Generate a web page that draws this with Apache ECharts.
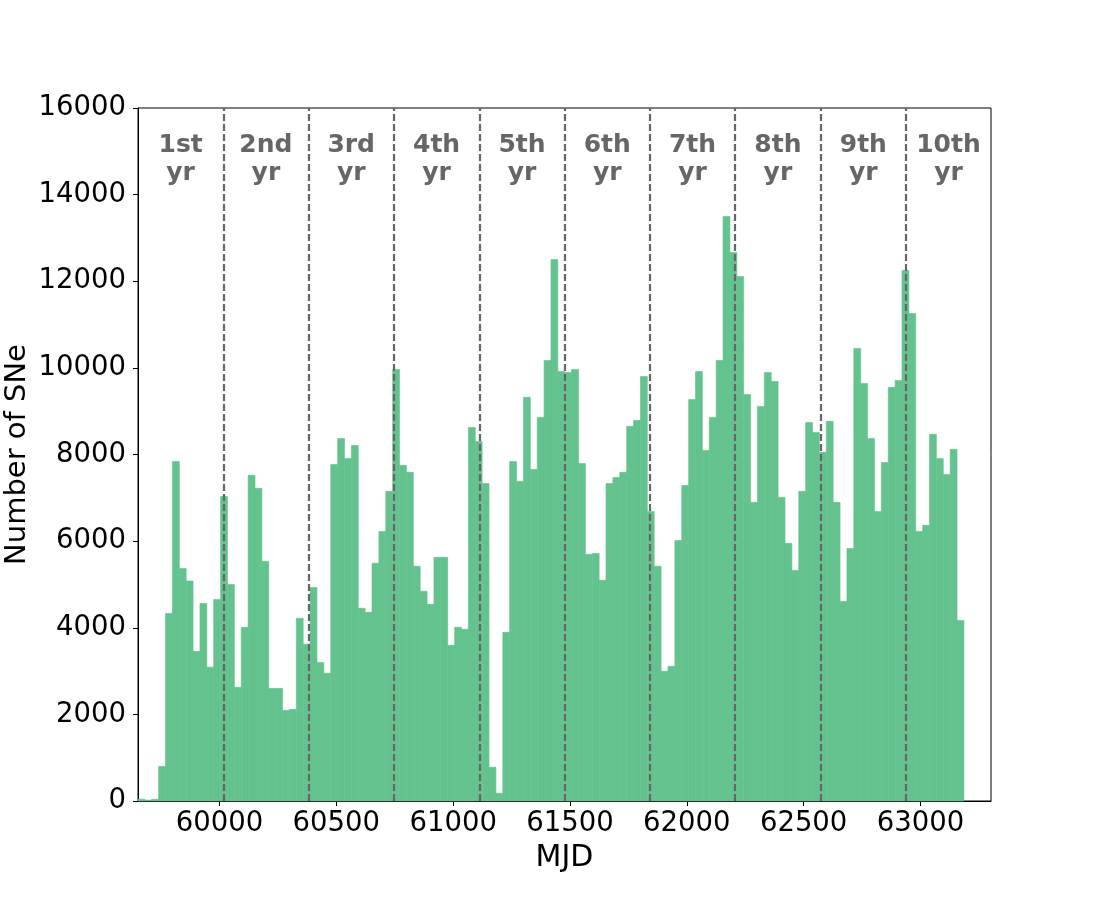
<!DOCTYPE html>
<html>
<head>
<meta charset="utf-8">
<script src="https://cdn.jsdelivr.net/npm/echarts@6/dist/echarts.min.js"></script>
<style>
html, body { margin: 0; padding: 0; background: #fff; }
#chart { width: 1100px; height: 900px; }
</style>
</head>
<body>
<div id="chart"></div>
<script>
// histogram bins (MJD)
var binStart = 59651;
var binWidth = 29.46;
var counts = [
    40, 20, 40, 800, 4330, 7840, 5370, 5080, 3455, 4560,
    3090, 4655, 7030, 5000, 2625, 4010, 7520, 7220, 5530, 2600,
    2600, 2095, 2115, 4220, 3620, 4930, 3200, 2950, 7770, 8370,
    7910, 8210, 4450, 4355, 5490, 6225, 7150, 9965, 7750, 7590,
    5420, 4840, 4540, 5625, 5625, 3595, 4010, 3965, 8625, 8300,
    7330, 780, 180, 3895, 7840, 7380, 9320, 7655, 8855, 10170,
    12500, 9915, 9895, 9965, 7795, 5695, 5715, 5095, 7330, 7470,
    7590, 8650, 8785, 9800, 6685, 5420, 2995, 3110, 6015, 7285,
    9270, 9915, 8095, 8855, 10170, 13495, 12665, 12110, 9385, 6895,
    9110, 9895, 9685, 7010, 5950, 5325, 7150, 8740, 8510, 8050,
    8765, 6895, 4610, 5830, 10450, 9640, 8370, 6685, 7815, 9550,
    9710, 12250, 11255, 6225, 6365, 8465, 7910, 7540, 8115, 4170
];
// year boundaries (dashed lines)
var yearLines = [60016, 60381, 60746, 61112, 61477, 61842, 62207, 62573, 62938];
var yearLabels = ['1st\nyr', '2nd\nyr', '3rd\nyr', '4th\nyr', '5th\nyr', '6th\nyr', '7th\nyr', '8th\nyr', '9th\nyr', '10th\nyr'];
var labelY = 14800;
var xTicks = [60000, 60500, 61000, 61500, 62000, 62500, 63000];
var xMin = 59651;
var xMax = 63302;

var barColor = '#63c28e';
var font = 'DejaVu Sans';

var barData = [];
for (var i = 0; i < counts.length; i++) {
    var x0 = binStart + i * binWidth;
    barData.push([x0, x0 + binWidth, counts[i]]);
}

//年份标签放在两条虚线中间
var bounds = [xMin].concat(yearLines).concat([xMax]);
var labelData = [];
for (var k = 0; k < yearLabels.length; k++) {
    labelData.push({ value: [(bounds[k] + bounds[k + 1]) / 2, labelY], name: yearLabels[k] });
}

var myChart = echarts.init(document.getElementById('chart'));
myChart.setOption({
    animation: false,
    backgroundColor: '#fff',
    grid: {
        left: 138,
        right: 109,
        top: 108,
        bottom: 99,
        containLabel: false,
        outerBoundsMode: 'none',
        show: true,
        borderColor: '#000',
        borderWidth: 1,
        backgroundColor: 'transparent'
    },
    xAxis: {
        type: 'value',
        min: xMin,
        max: xMax,
        name: 'MJD',
        nameLocation: 'middle',
        nameGap: 42,
        nameMoveOverlap: false,
        nameTextStyle: { fontFamily: font, fontSize: 30, color: '#000' },
        axisLine: { show: true, onZero: false, lineStyle: { color: '#000', width: 1 } },
        axisTick: { show: true, inside: false, length: 5, customValues: xTicks, lineStyle: { color: '#000' } },
        axisLabel: {
            show: true, customValues: xTicks, margin: 9, fontFamily: font, fontSize: 27.5, color: '#000',
            formatter: function (v) { return String(v); }
        },
        splitLine: { show: false }
    },
    yAxis: {
        type: 'value',
        min: 0,
        max: 16000,
        interval: 2000,
        name: 'Number of SNe',
        nameLocation: 'middle',
        nameGap: 106,
        nameMoveOverlap: false,
        nameTextStyle: { fontFamily: font, fontSize: 29, color: '#000' },
        axisLine: { show: true, lineStyle: { color: '#000', width: 1 } },
        axisTick: { show: true, inside: false, length: 5, lineStyle: { color: '#000' } },
        axisLabel: {
            margin: 12, fontFamily: font, fontSize: 27.5, color: '#000',
            formatter: function (v) { return String(v); }
        },
        splitLine: { show: false }
    },
    series: [
        {
            name: 'SNe',
            type: 'custom',
            encode: { x: [0, 1], y: 2 },
            data: barData,
            renderItem: function (params, api) {
                var p0 = api.coord([api.value(0), api.value(2)]);
                var p1 = api.coord([api.value(1), 0]);
                return {
                    type: 'rect',
                    shape: { x: p0[0], y: p0[1], width: p1[0] - p0[0], height: p1[1] - p0[1] },
                    style: { fill: barColor, stroke: barColor, lineWidth: 0.6 }
                };
            },
            markLine: {
                silent: true,
                symbol: ['none', 'none'],
                label: { show: false },
                lineStyle: { color: '#666', width: 2.2, type: [7, 3] },
                data: yearLines.map(function (v) { return { xAxis: v }; })
            },
            z: 2
        },
        {
            name: 'years',
            type: 'scatter',
            symbolSize: 0,
            silent: true,
            itemStyle: { opacity: 1 },
            data: labelData,
            label: {
                show: true,
                position: 'inside',
                formatter: function (p) { return p.name; },
                fontFamily: font,
                fontSize: 25,
                fontWeight: 'bold',
                color: '#666',
                opacity: 1,
                lineHeight: 28,
                align: 'center',
                verticalAlign: 'middle'
            },
            z: 5
        }
    ]
});
</script>
</body>
</html>
